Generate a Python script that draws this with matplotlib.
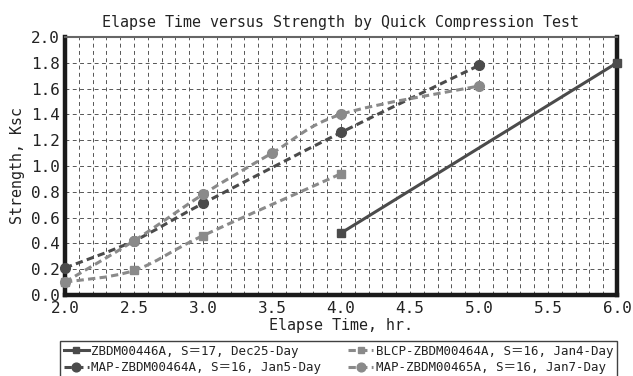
import numpy as np
import matplotlib
matplotlib.use("Agg")
import matplotlib.pyplot as plt
from matplotlib.path import Path
from matplotlib.patches import PathPatch
from matplotlib.lines import Line2D

plt.rcParams['font.family'] = ['DejaVu Sans Mono', 'Noto Sans CJK JP']

# ---- data ----
s1_x = [4.0, 6.0]
s1_y = [0.48, 1.80]
s2_x = [2.0, 2.5, 3.0, 4.0, 5.0]
s2_y = [0.21, 0.42, 0.71, 1.26, 1.78]
s3_x = [2.0, 2.5, 3.0, 4.0]
s3_y = [0.10, 0.19, 0.46, 0.94]
s4_x = [2.0, 2.5, 3.0, 3.5, 4.0, 5.0]
s4_y = [0.10, 0.42, 0.78, 1.10, 1.40, 1.62]

labels = ["ZBDM00446A, S＝17, Dec25-Day",
          "MAP-ZBDM00464A, S＝16, Jan5-Day",
          "BLCP-ZBDM00464A, S＝16, Jan4-Day",
          "MAP-ZBDM00465A, S＝16, Jan7-Day"]
x_ticks = [2.0, 2.5, 3.0, 3.5, 4.0, 4.5, 5.0, 5.5, 6.0]
y_ticks = [0.0, 0.2, 0.4, 0.6, 0.8, 1.0, 1.2, 1.4, 1.6, 1.8, 2.0]

DARK = '#4b4b4b'
LIGHT = '#8a8a8a'


def smooth_path(x, y):
    pts = np.column_stack([x, y]).astype(float)
    n = len(pts)
    verts = [pts[0]]
    codes = [Path.MOVETO]
    for i in range(n - 1):
        p0 = pts[i - 1] if i > 0 else pts[i]
        p1 = pts[i]
        p2 = pts[i + 1]
        p3 = pts[i + 2] if i + 2 < n else pts[i + 1]
        c1 = p1 + (p2 - p0) / 6.0
        c2 = p2 - (p3 - p1) / 6.0
        verts += [c1, c2, p2]
        codes += [Path.CURVE4] * 3
    return Path(verts, codes)


fig = plt.figure(figsize=(6.33, 3.76), dpi=100)
ax = fig.add_axes([65 / 633, 1 - 295 / 376, 552 / 633, 258 / 376])

dash = (0, (2.4, 1.4))
series = [
    (s1_x, s1_y, DARK, '-', 's', 5.5),
    (s2_x, s2_y, DARK, dash, 'o', 7),
    (s3_x, s3_y, LIGHT, dash, 's', 5.5),
    (s4_x, s4_y, LIGHT, dash, 'o', 7),
]
handles = []
for k, (xs, ys, col, ls, mk, ms) in enumerate(series):
    patch = PathPatch(smooth_path(xs, ys), fill=False, edgecolor=col,
                      linewidth=2.2, linestyle=ls, zorder=3 + k,
                      capstyle='butt', clip_on=False)
    ax.add_patch(patch)
    ax.plot(xs, ys, linestyle='none', marker=mk, markersize=ms, color=col,
            zorder=3 + k, clip_on=False)
    handles.append(Line2D([], [], color=col, linestyle=ls, linewidth=2.2,
                          marker=mk, markersize=ms * 0.9))

ax.set_xlim(2.0, 6.0)
ax.set_ylim(0.0, 2.0)
ax.set_xticks(x_ticks)
ax.set_xticklabels([f"{v:.1f}" for v in x_ticks])
ax.set_yticks(y_ticks)
ax.set_yticklabels([f"{v:.1f}" for v in y_ticks])
ax.set_xticks(np.arange(2.0, 6.0001, 0.1), minor=True)
ax.tick_params(which='both', length=0, labelsize=11.5, colors='#222222')
ax.tick_params(axis='x', pad=4)
ax.tick_params(axis='y', pad=4)

ax.grid(which='major', axis='y', color='#555555', linewidth=0.7,
        linestyle=(0, (4, 3.5)), zorder=1)
ax.grid(which='both', axis='x', color='#555555', linewidth=0.7,
        linestyle=(0, (4, 3.5)), zorder=1)
ax.set_axisbelow(True)

for side in ['left', 'bottom', 'right']:
    ax.spines[side].set_linewidth(3.2)
    ax.spines[side].set_color('#1a1a1a')
ax.spines['top'].set_linewidth(1.5)
ax.spines['top'].set_color('#666666')

ax.set_title("Elapse Time versus Strength by Quick Compression Test",
             fontsize=10.8, color='#222222', pad=7)
ax.set_xlabel("Elapse Time, hr.", fontsize=10.8, color='#222222', labelpad=2)
ax.set_ylabel("Strength, Ksc", fontsize=10.8, color='#222222', labelpad=4)

leg = fig.legend(handles, labels, ncol=2, loc='upper left',
                 bbox_to_anchor=(60 / 633, 0, 557 / 633, 1 - 341 / 376),
                 mode='expand', fontsize=9, handlelength=2.0,
                 handletextpad=0.2, borderpad=0.3, labelspacing=0.25,
                 columnspacing=1.0, borderaxespad=0.0, fancybox=False,
                 frameon=True)
leg.get_frame().set_edgecolor('#111111')
leg.get_frame().set_linewidth(1.0)
for t in leg.get_texts():
    t.set_color('#222222')

fig.savefig("out.png", dpi=100)
